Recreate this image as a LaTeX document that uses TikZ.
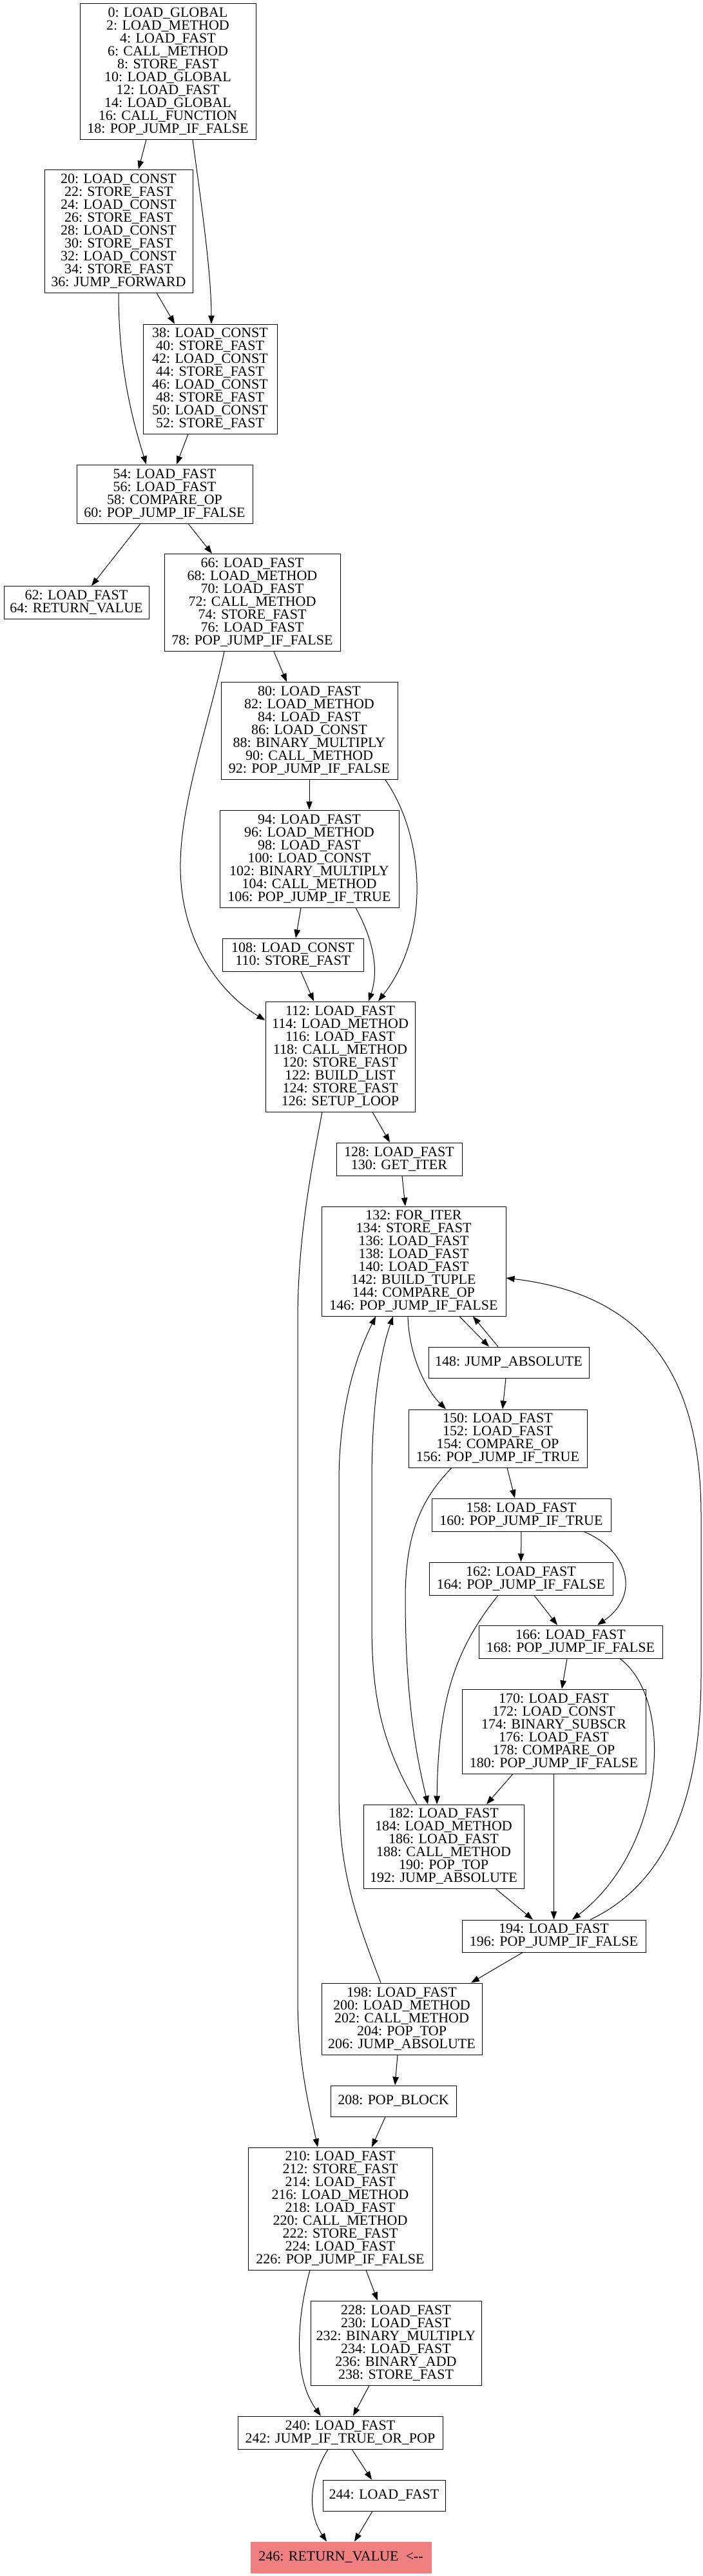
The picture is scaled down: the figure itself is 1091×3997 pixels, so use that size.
\documentclass[tikz,border=0pt]{standalone}
\usepackage{fontspec}
\setmainfont{Liberation Serif}
\usetikzlibrary{arrows.meta}
\definecolor{lcoral}{HTML}{F08080}
\tikzset{
  blk/.style={draw=black, line width=1pt, rectangle, inner sep=0pt, align=center,
    font=\fontsize{22pt}{20pt}\selectfont},
  edge/.style={draw=black, line width=1pt, -{Triangle[length=13pt,width=9.5pt]}}
}
\begin{document}
\begin{tikzpicture}[x=1pt,y=-1pt]
\fill[white] (0,0) rectangle (1091,3997);
\useasboundingbox (0,0) rectangle (1091,3997);

\node[blk, minimum width=273pt, minimum height=211pt] (n0) at (260.5,110.5) {0: LOAD\_GLOBAL\\2: LOAD\_METHOD\\4: LOAD\_FAST\\6: CALL\_METHOD\\8: STORE\_FAST\\10: LOAD\_GLOBAL\\12: LOAD\_FAST\\14: LOAD\_GLOBAL\\16: CALL\_FUNCTION\\18: POP\_JUMP\_IF\_FALSE};
\node[blk, minimum width=230pt, minimum height=191pt] (n20) at (184,358.5) {20: LOAD\_CONST\\22: STORE\_FAST\\24: LOAD\_CONST\\26: STORE\_FAST\\28: LOAD\_CONST\\30: STORE\_FAST\\32: LOAD\_CONST\\34: STORE\_FAST\\36: JUMP\_FORWARD};
\node[blk, minimum width=208pt, minimum height=170pt] (n38) at (326,588) {38: LOAD\_CONST\\40: STORE\_FAST\\42: LOAD\_CONST\\44: STORE\_FAST\\46: LOAD\_CONST\\48: STORE\_FAST\\50: LOAD\_CONST\\52: STORE\_FAST};
\node[blk, minimum width=273pt, minimum height=91pt] (n54) at (255.5,766.5) {54: LOAD\_FAST\\56: LOAD\_FAST\\58: COMPARE\_OP\\60: POP\_JUMP\_IF\_FALSE};
\node[blk, minimum width=225pt, minimum height=51pt] (n62) at (118.5,935) {62: LOAD\_FAST\\64: RETURN\_VALUE};
\node[blk, minimum width=273pt, minimum height=151pt] (n66) at (391.5,935) {66: LOAD\_FAST\\68: LOAD\_METHOD\\70: LOAD\_FAST\\72: CALL\_METHOD\\74: STORE\_FAST\\76: LOAD\_FAST\\78: POP\_JUMP\_IF\_FALSE};
\node[blk, minimum width=274pt, minimum height=151pt] (n80) at (480,1134) {80: LOAD\_FAST\\82: LOAD\_METHOD\\84: LOAD\_FAST\\86: LOAD\_CONST\\88: BINARY\_MULTIPLY\\90: CALL\_METHOD\\92: POP\_JUMP\_IF\_FALSE};
\node[blk, minimum width=278pt, minimum height=151pt] (n94) at (480,1332.5) {94: LOAD\_FAST\\96: LOAD\_METHOD\\98: LOAD\_FAST\\100: LOAD\_CONST\\102: BINARY\_MULTIPLY\\104: CALL\_METHOD\\106: POP\_JUMP\_IF\_TRUE};
\node[blk, minimum width=219pt, minimum height=51pt] (n108) at (454.5,1481.5) {108: LOAD\_CONST\\110: STORE\_FAST};
\node[blk, minimum width=232pt, minimum height=171pt] (n112) at (528,1639.5) {112: LOAD\_FAST\\114: LOAD\_METHOD\\116: LOAD\_FAST\\118: CALL\_METHOD\\120: STORE\_FAST\\122: BUILD\_LIST\\124: STORE\_FAST\\126: SETUP\_LOOP};
\node[blk, minimum width=195pt, minimum height=51pt] (n128) at (619.5,1798.5) {128: LOAD\_FAST\\130: GET\_ITER};
\node[blk, minimum width=286pt, minimum height=170pt] (n132) at (642,1957) {132: FOR\_ITER\\134: STORE\_FAST\\136: LOAD\_FAST\\138: LOAD\_FAST\\140: LOAD\_FAST\\142: BUILD\_TUPLE\\144: COMPARE\_OP\\146: POP\_JUMP\_IF\_FALSE};
\node[blk, minimum width=249pt, minimum height=48pt] (n148) at (789.5,2114) {148: JUMP\_ABSOLUTE};
\node[blk, minimum width=277pt, minimum height=90pt] (n150) at (772.5,2232) {150: LOAD\_FAST\\152: LOAD\_FAST\\154: COMPARE\_OP\\156: POP\_JUMP\_IF\_TRUE};
\node[blk, minimum width=278pt, minimum height=51pt] (n158) at (809,2350.5) {158: LOAD\_FAST\\160: POP\_JUMP\_IF\_TRUE};
\node[blk, minimum width=285pt, minimum height=51pt] (n162) at (808.5,2449.5) {162: LOAD\_FAST\\164: POP\_JUMP\_IF\_FALSE};
\node[blk, minimum width=285pt, minimum height=51pt] (n166) at (885.5,2547.5) {166: LOAD\_FAST\\168: POP\_JUMP\_IF\_FALSE};
\node[blk, minimum width=285pt, minimum height=131pt] (n170) at (859.5,2686.5) {170: LOAD\_FAST\\172: LOAD\_CONST\\174: BINARY\_SUBSCR\\176: LOAD\_FAST\\178: COMPARE\_OP\\180: POP\_JUMP\_IF\_FALSE};
\node[blk, minimum width=249pt, minimum height=130pt] (n182) at (688.5,2865) {182: LOAD\_FAST\\184: LOAD\_METHOD\\186: LOAD\_FAST\\188: CALL\_METHOD\\190: POP\_TOP\\192: JUMP\_ABSOLUTE};
\node[blk, minimum width=285pt, minimum height=50pt] (n194) at (859.5,3004) {194: LOAD\_FAST\\196: POP\_JUMP\_IF\_FALSE};
\node[blk, minimum width=249pt, minimum height=111pt] (n198) at (623.5,3132.5) {198: LOAD\_FAST\\200: LOAD\_METHOD\\202: CALL\_METHOD\\204: POP\_TOP\\206: JUMP\_ABSOLUTE};
\node[blk, minimum width=195pt, minimum height=48pt] (n208) at (610.5,3260) {208: POP\_BLOCK};
\node[blk, minimum width=286pt, minimum height=190pt] (n210) at (528,3427) {210: LOAD\_FAST\\212: STORE\_FAST\\214: LOAD\_FAST\\216: LOAD\_METHOD\\218: LOAD\_FAST\\220: CALL\_METHOD\\222: STORE\_FAST\\224: LOAD\_FAST\\226: POP\_JUMP\_IF\_FALSE};
\node[blk, minimum width=265pt, minimum height=131pt] (n228) at (614.5,3635.5) {228: LOAD\_FAST\\230: LOAD\_FAST\\232: BINARY\_MULTIPLY\\234: LOAD\_FAST\\236: BINARY\_ADD\\238: STORE\_FAST};
\node[blk, minimum width=318pt, minimum height=51pt] (n240) at (528,3774.5) {240: LOAD\_FAST\\242: JUMP\_IF\_TRUE\_OR\_POP};
\node[blk, minimum width=190pt, minimum height=48pt] (n244) at (596,3872) {244: LOAD\_FAST};
\node[blk, draw=lcoral, fill=lcoral, minimum width=280pt, minimum height=48pt] (n246) at (529,3968) {246: RETURN\_VALUE\ \ <{-}{-}};

\draw[edge] ([xshift=-33.5pt]n0.south) -- ([xshift=31pt]n20.north);
\draw[edge] ([xshift=38.5pt]n0.south) .. controls (310,300) and (328,420) .. ([xshift=2pt]n38.north);
\draw[edge] ([xshift=59pt]n20.south) -- ([xshift=-55pt]n38.north);
\draw[edge] (n20.south) .. controls (184,570) and (205,650) .. ([xshift=-28.5pt]n54.north);
\draw[edge] ([xshift=-34pt]n38.south) -- ([xshift=18.5pt]n54.north);
\draw[edge] ([xshift=-37.5pt]n54.south) -- ([xshift=23.5pt]n62.north);
\draw[edge] ([xshift=36.5pt]n54.south) -- ([xshift=-62.5pt]n66.north);
\draw[edge] ([xshift=33.5pt]n66.south) -- ([xshift=-35pt]n80.north);
\draw[edge] ([xshift=-43.5pt]n66.south) .. controls (325,1120) and (278,1250) .. (280,1350) .. controls (282,1460) and (340,1540) .. ([yshift=56.5pt]n112.west);
\draw[edge] (n80.south) -- (n94.north);
\draw[edge] ([xshift=118pt]n80.south) .. controls (660,1300) and (668,1450) .. ([xshift=59pt]n112.north);
\draw[edge] ([xshift=-13pt]n94.south) -- ([xshift=4.5pt]n108.north);
\draw[edge] ([xshift=72pt]n94.south) .. controls (575,1450) and (590,1500) .. ([xshift=44pt]n112.north);
\draw[edge] ([xshift=12.5pt]n108.south) -- ([xshift=-41pt]n112.north);
\draw[edge] ([xshift=50pt]n112.south) -- ([xshift=-14.5pt]n128.north);
\draw[edge] ([xshift=-28pt]n112.south) .. controls (480,1830) and (462,1930) .. (462,2050) -- (462,3100) .. controls (462,3200) and (480,3270) .. ([xshift=-35pt]n210.north);
\draw[edge] ([xshift=4.5pt]n128.south) -- ([xshift=-13pt]n132.north);
\draw[edge] ([xshift=71pt]n132.south) -- ([xshift=-30.5pt]n148.north);
\draw[edge] ([xshift=-16.5pt]n148.north) -- ([xshift=92pt]n132.south);
\draw[edge] ([xshift=-9pt]n132.south) .. controls (635,2110) and (665,2160) .. ([xshift=-80.5pt]n150.north);
\draw[edge] ([xshift=-4.5pt]n148.south) -- ([xshift=7.5pt]n150.north);
\draw[edge] ([xshift=14.5pt]n150.south) -- ([xshift=-10pt]n158.north);
\draw[edge] ([xshift=-71.5pt]n150.south) .. controls (660,2320) and (629,2370) .. (629,2480) .. controls (629,2650) and (650,2740) .. ([xshift=-24.5pt]n182.north);
\draw[edge] (n158.south) -- (n162.north);
\draw[edge] ([xshift=97pt]n158.south) .. controls (975,2405) and (995,2475) .. ([xshift=41.5pt]n166.north);
\draw[edge] ([xshift=20.5pt]n162.south) -- ([xshift=-20.5pt]n166.north);
\draw[edge] ([xshift=-35.5pt]n162.south) .. controls (705,2560) and (680,2640) .. ([xshift=-10.5pt]n182.north);
\draw[edge] ([xshift=-5.5pt]n166.south) -- ([xshift=12.5pt]n170.north);
\draw[edge] ([xshift=76.5pt]n166.south) .. controls (1050,2640) and (1030,2870) .. ([xshift=28.5pt]n194.north);
\draw[edge] ([xshift=-63.5pt]n170.south) -- ([xshift=66.5pt]n182.north);
\draw[edge] (n170.south) -- (n194.north);
\draw[edge] ([xshift=80.5pt]n182.south) -- ([xshift=-32.5pt]n194.north);
\draw[edge] ([xshift=-41.5pt]n182.north) .. controls (595,2710) and (577,2640) .. (577,2520) -- (577,2300) .. controls (577,2150) and (597,2080) .. ([xshift=-32pt]n132.south);
\draw[edge] ([xshift=-32.5pt]n198.north) .. controls (550,2970) and (526,2900) .. (526,2780) -- (526,2300) .. controls (526,2160) and (565,2080) .. ([xshift=-59pt]n132.south);
\draw[edge] ([xshift=56.5pt]n194.north) .. controls (1040,2920) and (1088,2780) .. (1088,2600) -- (1088,2350) .. controls (1088,2100) and (970,2005) .. ([yshift=-26pt]n132.east);
\draw[edge] ([xshift=-48.5pt]n194.south) -- ([xshift=107.5pt]n198.north);
\draw[edge] ([xshift=-6.5pt]n198.south) -- ([xshift=2.5pt]n208.north);
\draw[edge] ([xshift=-12.5pt]n208.south) -- ([xshift=49pt]n210.north);
\draw[edge] ([xshift=40pt]n210.south) -- ([xshift=-28.5pt]n228.north);
\draw[edge] ([xshift=-47pt]n210.south) .. controls (460,3600) and (455,3690) .. ([xshift=-30pt]n240.north);
\draw[edge] ([xshift=-41.5pt]n228.south) -- ([xshift=20pt]n240.north);
\draw[edge] ([xshift=18pt]n240.south) -- ([xshift=-19pt]n244.north);
\draw[edge] ([xshift=-19pt]n240.south) .. controls (478,3850) and (478,3900) .. ([xshift=-22pt]n246.north);
\draw[edge] ([xshift=-18pt]n244.south) -- ([xshift=21pt]n246.north);
\end{tikzpicture}
\end{document}
